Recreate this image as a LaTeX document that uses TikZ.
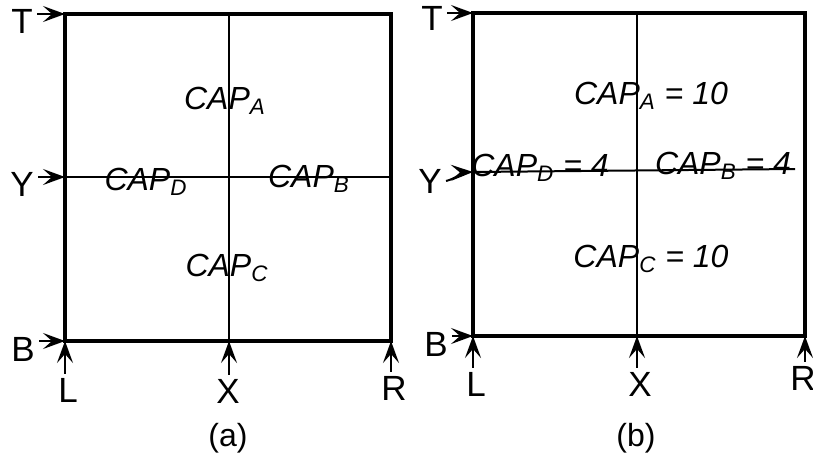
\documentclass[tikz,border=0pt]{standalone}
\usepackage{fontspec}
\setmainfont{Liberation Sans}
\usetikzlibrary{arrows.meta}

\begin{document}
\begin{tikzpicture}[
  x=0.5pt, y=-0.5pt,
  font=\fontsize{16}{19}\selectfont,
  >={Stealth[length=11pt,width=8pt,inset=4.5pt]},
  frame/.style={line width=2pt},
  cut/.style={line width=1pt},
  arr/.style={->, line width=1pt},
  side/.style={inner sep=2pt, font=\fontsize{17.5}{20}\selectfont},
  capacity/.style={inner sep=1pt, font=\fontsize{16}{19}\selectfont\itshape}
]
\useasboundingbox (0,0) rectangle (813,462);

% panel (a)
\coordinate (a-tl) at (65,14);
\coordinate (a-br) at (391,341);
\coordinate (a-bl) at (65,341);
\coordinate (a-xt) at (229,14);
\coordinate (a-xb) at (229,341);
\coordinate (a-yl) at (65,177);
\coordinate (a-yr) at (391,177);

\draw[frame] (a-tl) rectangle (a-br);
\draw[cut] (a-xt) -- (a-xb);
\draw[cut] (a-yl) -- (a-yr);

\node[side] (a-T) at (22,21) {T};
\node[side] (a-Y) at (22,184) {Y};
\node[side] (a-B) at (23,349) {B};
\node[side] (a-L) at (68,390) {L};
\node[side] (a-X) at (228,391) {X};
\node[side] (a-R) at (394,388) {R};
\node (a-cap) at (228,438) {(a)};

\draw[arr] (a-T.east |- a-tl) -- (a-tl);
\draw[arr] (a-Y.east |- a-yl) -- (a-yl);
\draw[arr] (a-B.east |- a-bl) -- (a-bl);
\draw[arr] (a-L.north -| a-bl) -- (a-bl);
\draw[arr] (a-X.north -| a-xb) -- (a-xb);
\draw[arr] (a-R.north -| a-br) -- (a-br);

\node[capacity] (a-capA) at (225,101) {CAP\textsubscript{A}};
\node[capacity] (a-capD) at (146,182) {CAP\textsubscript{D}};
\node[capacity] (a-capB) at (309,179) {CAP\textsubscript{B}};
\node[capacity] (a-capC) at (227,268) {CAP\textsubscript{C}};

% panel (b)
\coordinate (b-tl) at (473,13);
\coordinate (b-br) at (805,336);
\coordinate (b-bl) at (473,336);
\coordinate (b-xt) at (637,13);
\coordinate (b-xb) at (637,336);
\coordinate (b-yl) at (473,172);
\coordinate (b-yr) at (795,169);

\draw[frame] (b-tl) rectangle (b-br);
\draw[cut] (b-xt) -- (b-xb);
\draw[cut] (b-yl) -- (b-yr);

\node[side] (b-T) at (432,18) {T};
\node[side] (b-Y) at (430,181) {Y};
\node[side] (b-B) at (436,344) {B};
\node[side] (b-L) at (476,384) {L};
\node[side] (b-X) at (640,384) {X};
\node[side] (b-R) at (803,378) {R};
\node (b-cap) at (636,438) {(b)};

\draw[arr] (b-T.east |- b-tl) -- (b-tl);
\draw[arr] (b-Y.east) to[out=15,in=182] (b-yl);
\draw[arr] (b-B.east |- b-bl) -- (b-bl);
\draw[arr] (b-L.north -| b-bl) -- (b-bl);
\draw[arr] (b-X.north -| b-xb) -- (b-xb);
\draw[arr] (b-R.north -| b-br) -- (b-br);

\node[capacity] (b-capA) at (651,96) {CAP\textsubscript{A} = 10};
\node[capacity] (b-capD) at (540,168) {CAP\textsubscript{D} = 4};
\node[capacity] (b-capB) at (723,166) {CAP\textsubscript{B} = 4};
\node[capacity] (b-capC) at (651,259) {CAP\textsubscript{C} = 10};
\end{tikzpicture}
\end{document}
